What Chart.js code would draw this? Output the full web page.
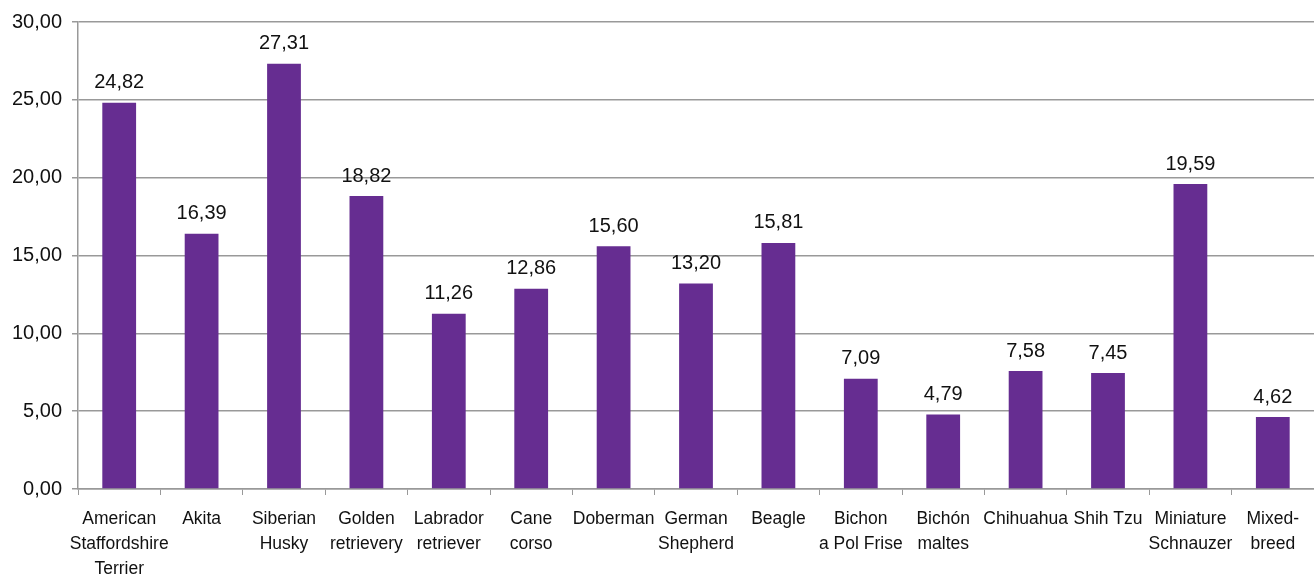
<!DOCTYPE html>
<html>
<head>
<meta charset="utf-8">
<script src="https://cdn.jsdelivr.net/npm/chart.js@4"></script>
<style>
    html, body { margin: 0; padding: 0; background: #fff; }
    #wrap { width: 1314px; height: 576px; position: relative; }
</style>
</head>
<body>
<div id="wrap"><canvas id="breedChart"></canvas></div>
<script>
// Breeds (multi-line labels as in the original)
const breeds = [
    ['American', 'Staffordshire', 'Terrier'],
    'Akita',
    ['Siberian', 'Husky'],
    ['Golden', 'retrievery'],
    ['Labrador', 'retriever'],
    ['Cane', 'corso'],
    'Doberman',
    ['German', 'Shepherd'],
    'Beagle',
    ['Bichon', 'a Pol Frise'],
    ['Bichón', 'maltes'],
    'Chihuahua',
    'Shih Tzu',
    ['Miniature', 'Schnauzer'],
    ['Mixed-', 'breed']
];
const values = [24.82, 16.39, 27.31, 18.82, 11.26, 12.86, 15.60, 13.20, 15.81, 7.09, 4.79, 7.58, 7.45, 19.59, 4.62];
const yTicks = [0, 5, 10, 15, 20, 25, 30];

function fmt(v) {
    return v.toFixed(2).replace('.', ',');
}

// draw the value above each bar
const valueLabels = {
    id: 'valueLabels',
    afterDatasetsDraw(chart) {
        const ctx = chart.ctx;
        const meta = chart.getDatasetMeta(0);
        ctx.save();
        ctx.font = '20px "Liberation Sans", Arial, sans-serif';
        ctx.fillStyle = '#111';
        ctx.textAlign = 'center';
        ctx.textBaseline = 'bottom';
        meta.data.forEach((bar, i) => {
            ctx.fillText(fmt(values[i]), bar.x, bar.y - 10);
        });
        ctx.restore();
    }
};

const ctx = document.getElementById('breedChart').getContext('2d');
new Chart(ctx, {
    type: 'bar',
    data: {
        labels: breeds,
        datasets: [{
            data: values,
            backgroundColor: '#662d91',
            barPercentage: 0.82,
            categoryPercentage: 0.5
        }]
    },
    options: {
        responsive: true,
        maintainAspectRatio: false,
        animation: false,
        layout: { padding: { top: 12, right: 0, left: 0, bottom: 0 } },
        plugins: {
            legend: { display: false },
            tooltip: { enabled: false }
        },
        scales: {
            x: {
                offset: true,
                grid: {
                    offset: true,
                    drawOnChartArea: false,
                    drawTicks: true,
                    tickLength: 6,
                    color: '#999'
                },
                border: { color: '#999', width: 1.5 },
                ticks: {
                    color: '#111',
                    maxRotation: 0,
                    autoSkip: false,
                    padding: 12,
                    font: { family: '"Liberation Sans", Arial, sans-serif', size: 17.5, lineHeight: 1.43 }
                },
                afterFit(axis) { axis.height = 87; }
            },
            y: {
                min: 0,
                max: 30,
                afterBuildTicks(axis) {
                    axis.ticks = yTicks.map(v => ({ value: v }));
                },
                grid: {
                    color: '#999',
                    lineWidth: 1.5,
                    tickLength: 6
                },
                border: { color: '#999', width: 1.5 },
                ticks: {
                    color: '#111',
                    padding: 10,
                    font: { family: '"Liberation Sans", Arial, sans-serif', size: 20 },
                    callback: v => fmt(v)
                },
                afterFit(axis) { axis.width = 78; }
            }
        }
    },
    plugins: [valueLabels]
});
</script>
</body>
</html>
